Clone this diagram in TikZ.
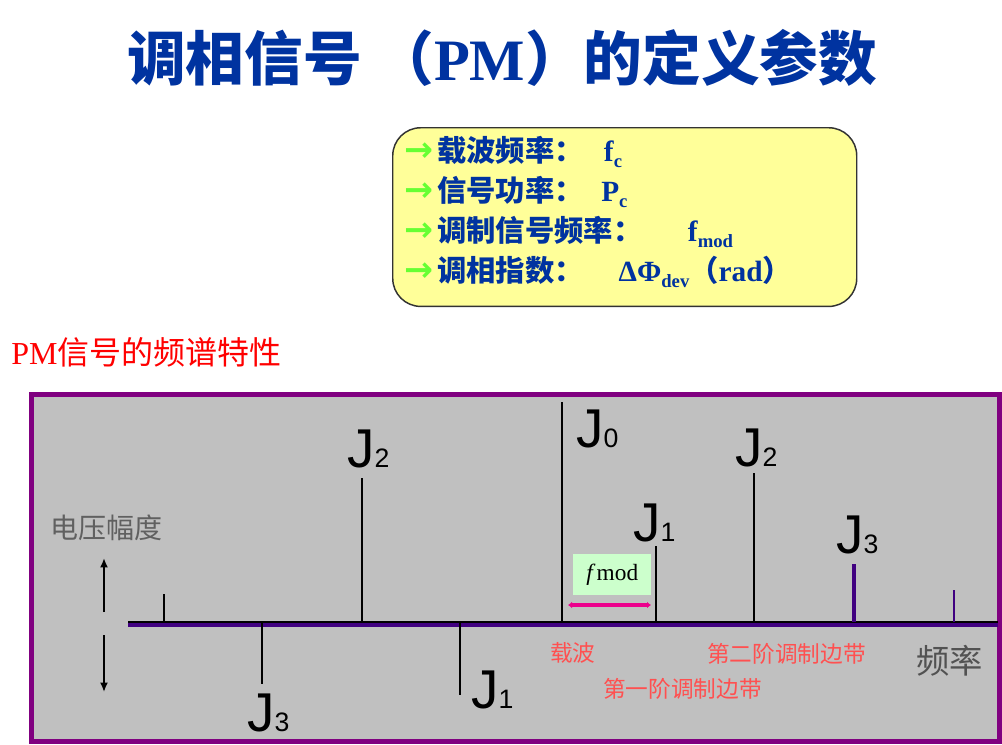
\documentclass[tikz,border=0pt]{standalone}
\usepackage{fontspec}
\setmainfont{Liberation Serif}
\newfontfamily\cjkfont{Noto Sans CJK SC}
\newfontfamily\jfont{Liberation Sans}
\newfontfamily\arrowfont{DejaVu Sans}
\usetikzlibrary{arrows.meta}

\definecolor{titleblue}{RGB}{0,51,160}
\definecolor{boxyellow}{RGB}{255,255,153}
\definecolor{arrowgreen}{RGB}{102,255,51}
\definecolor{framepurple}{RGB}{128,0,128}
\definecolor{axispurple}{RGB}{64,0,128}
\definecolor{panelgray}{RGB}{192,192,192}
\definecolor{labelred}{RGB}{255,80,80}
\definecolor{labelgray}{RGB}{96,96,96}
\definecolor{fmodgreen}{RGB}{204,255,204}

\newcommand{\latin}[1]{{\rmfamily\bfseries #1}}
\newcommand{\lowsub}[1]{\raisebox{-4.5pt}{\rmfamily\bfseries\fontsize{14pt}{14pt}\selectfont #1}}
\newcommand{\grn}{{\arrowfont\bfseries\fontsize{26pt}{26pt}\selectfont\color{arrowgreen}→}\hspace{3pt}}
\newcommand{\jsub}[1]{{\fontsize{20pt}{20pt}\selectfont #1}}

\begin{document}
\begin{tikzpicture}[x=0.75pt, y=-0.75pt,
    param/.style={anchor=base west, inner sep=0pt, text=titleblue,
        font=\cjkfont\bfseries\fontsize{22pt}{26pt}\selectfont},
    jlab/.style={anchor=base west, inner sep=0pt, font=\jfont\fontsize{41pt}{41pt}\selectfont},
    redlab/.style={anchor=base west, inner sep=0pt, text=labelred,
        font=\cjkfont\fontsize{17pt}{17pt}\selectfont},
    graylab/.style={anchor=base west, inner sep=0pt, text=labelgray}]
    \useasboundingbox (0,0) rectangle (1002,744);

    \node[anchor=base west, inner sep=0pt, text=titleblue, font=\cjkfont\bfseries\fontsize{44pt}{44pt}\selectfont]
        (title) at (127,80) {调相信号 （{\rmfamily PM}）的定义参数};

    \node[draw=black!80, line width=1.1pt, fill=boxyellow, rounded corners=21pt, anchor=north west,
        inner sep=0pt, minimum width=348pt, minimum height=134pt] (params) at (392,127) {};
    \node[param] (p1) at (404,161) {\grn 载波频率：\hspace{15pt}\latin{f}\lowsub{c}};
    \node[param] (p2) at (404,201) {\grn 信号功率：\hspace{13pt}\latin{P}\lowsub{c}};
    \node[param] (p3) at (404,241) {\grn 调制信号频率：\hspace{34pt}\latin{f}\lowsub{mod}};
    \node[param] (p4) at (404,281) {\grn 调相指数：\hspace{26pt}\latin{ΔΦ}\lowsub{dev}（\latin{rad}）};

    \node[anchor=base west, inner sep=0pt, text=red, font=\cjkfont\fontsize{24pt}{24pt}\selectfont]
        (spectitle) at (11,364) {{\rmfamily PM}信号的频谱特性};

    \draw[framepurple, line width=3.75pt, fill=panelgray] (31,394.5) rectangle (999,741.5);

    \draw[axispurple, line width=3pt] (128,625) -- (998,625);
    \draw[line width=1.1pt] (128,622) -- (998,622);

    \foreach \x/\y/\w/\c in {164/594/1.3/black, 362/478/0.9/black, 562/402/0.9/black, 656/546/0.9/black,
        754/473/1.4/black, 854/564/2.6/axispurple, 954/590/1.5/axispurple, 262/684/1.4/black, 460/695/1.4/black}
        \draw[\c, line width=\w pt] (\x,622) -- (\x,\y);

    \foreach \x/\y/\n/\k in {347/467/2/j2l, 247/731/3/j3l, 471/708/1/j1l, 576/447/0/j0,
        633/541/1/j1r, 735/466/2/j2r, 836/553/3/j3r}
        \node[jlab] (\k) at (\x,\y) {J\jsub{\n}};

    \node[graylab, font=\cjkfont\fontsize{21pt}{21pt}\selectfont] (volt) at (50,538) {电压幅度};
    \coordinate (up-a) at (104,612);
    \coordinate (up-b) at (104,558);
    \coordinate (dn-a) at (104,635);
    \coordinate (dn-b) at (104,692);
    \draw[line width=2pt, -{Latex[length=7pt,width=6pt]}] (up-a) -- (up-b);
    \draw[line width=2pt, -{Latex[length=7pt,width=6pt]}] (dn-a) -- (dn-b);

    \node[fill=fmodgreen, anchor=north west, inner sep=0pt, minimum width=58.5pt, minimum height=30.75pt,
        font=\fontsize{17.5pt}{17.5pt}\selectfont] (fmod) at (573,554) {{\itshape f}\,mod};
    \coordinate (fm-l) at (568,605);
    \coordinate (fm-r) at (651,605);
    \draw[magenta, line width=2.8pt, {Latex[length=3pt,width=5pt]}-{Latex[length=3pt,width=5pt]}] (fm-l) -- (fm-r);

    \node[redlab] (carrier) at (550,661) {载波};
    \node[redlab] (side2) at (707,662) {第二阶调制边带};
    \node[redlab] (side1) at (603,697) {第一阶调制边带};
    \node[graylab, font=\cjkfont\fontsize{25pt}{25pt}\selectfont, text=black!68] (freq) at (916,673) {频率};
\end{tikzpicture}
\end{document}
